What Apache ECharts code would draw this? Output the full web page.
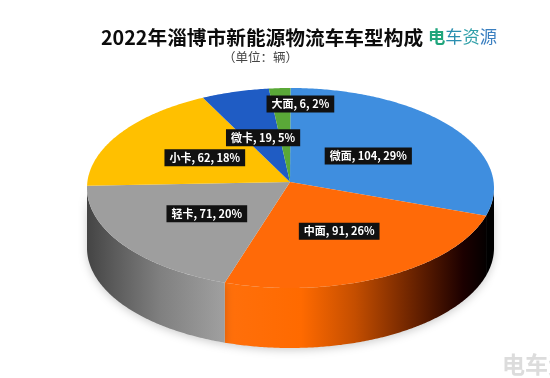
<!DOCTYPE html>
<html>
<head>
<meta charset="utf-8">
<style>
html, body { margin: 0; padding: 0; background: #fff; }
#chart { width: 550px; height: 378px; }
</style>
<script src="https://cdn.jsdelivr.net/npm/echarts@6/dist/echarts.min.js"></script>
</head>
<body>
<div id="chart"></div>
<script>
// data, clockwise from 12 o'clock
var categories = ['微面', '中面', '轻卡', '小卡', '微卡', '大面'];
var values = [104, 91, 71, 62, 19, 6];
var percents = [29, 26, 20, 18, 5, 2];
var topColors = ['#3f8edf', '#ff6a08', '#9e9e9e', '#ffc000', '#1f5cc4', '#5aa838'];

// layout of the tilted pie
var cx = 290.5, cy = 188, rx = 203.5, ry = 100;
var apexX = 290, apexY = 182;
var depth = 60;
var labelFrac = [0.48, 0.52, 0.5, 0.5, 0.49, 0.83];
var labelShift = [0, 0, 0, 0, 0, 19];

var total = values.reduce(function (a, b) { return a + b; }, 0);
var starts = [];
values.reduce(function (sum, v, i) { starts[i] = sum; return sum + v; }, 0);

function rim(t) {
    return [cx + rx * Math.sin(t), cy - ry * Math.cos(t)];
}

function arcPoints(t0, t1, dy) {
    var pts = [];
    var n = Math.max(2, Math.ceil((t1 - t0) / 0.01));
    for (var k = 0; k <= n; k++) {
        var p = rim(t0 + (t1 - t0) * k / n);
        pts.push([p[0], p[1] + dy]);
    }
    return pts;
}

var wallFills = [
    '#000000',
    new echarts.graphic.LinearGradient(220, 0, 490, 0, [
        { offset: 0, color: '#ff700c' },
        { offset: 0.3, color: '#ff6a00' },
        { offset: 0.5, color: '#c44e00' },
        { offset: 0.75, color: '#5c1c00' },
        { offset: 0.9, color: '#1c0000' },
        { offset: 1, color: '#000000' }
    ], true),
    new echarts.graphic.LinearGradient(87, 0, 221, 0, [
        { offset: 0, color: '#444444' },
        { offset: 0.15, color: '#555555' },
        { offset: 0.55, color: '#808080' },
        { offset: 1, color: '#9e9e9e' }
    ], true)
];

function renderSlice(params, api) {
    var i = params.dataIndex;
    var t0 = starts[i] / total * Math.PI * 2;
    var t1 = (starts[i] + api.value(0)) / total * Math.PI * 2;
    var children = [];

    // side wall, only the part facing the viewer
    var w0 = Math.max(t0, Math.PI / 2), w1 = Math.min(t1, Math.PI * 1.5);
    if (w1 > w0) {
        children.push({
            type: 'polygon',
            z2: 1,
            shape: { points: arcPoints(w0, w1, 0).concat(arcPoints(w0, w1, depth).reverse()) },
            style: { fill: wallFills[i], shadowBlur: 8, shadowColor: 'rgba(0,0,0,0.2)', shadowOffsetY: 2 }
        });
    }

    children.push({
        type: 'polygon',
        z2: 2,
        shape: { points: [[apexX, apexY]].concat(arcPoints(t0, t1, 0)) },
        style: { fill: topColors[i] }
    });

    var mid = rim((t0 + t1) / 2);
    children.push({
        type: 'text',
        z2: 3,
        style: {
            x: apexX + (mid[0] - apexX) * labelFrac[i] + labelShift[i],
            y: apexY + (mid[1] - apexY) * labelFrac[i],
            text: categories[i] + ', ' + values[i] + ', ' + percents[i] + '%',
            align: 'center',
            verticalAlign: 'middle',
            fill: '#fff',
            fontFamily: '"Noto Sans CJK SC"',
            fontWeight: 'bold',
            fontSize: 11,
            backgroundColor: '#111111',
            padding: [3, 5],
            boxShadowBlur: 4,
            boxShadowColor: 'rgba(0,0,0,0.6)',
            boxShadowOffsetX: 2,
            boxShadowOffsetY: 2
        }
    });

    return { type: 'group', children: children };
}

var myChart = echarts.init(document.getElementById('chart'), null, { renderer: 'canvas' });

var option = {
    animation: false,
    backgroundColor: '#fff',
    title: [
        {
            text: '2022年淄博市新能源物流车车型构成',
            left: 101,
            top: 28,
            padding: 0,
            textStyle: { fontFamily: '"Noto Sans CJK SC"', fontSize: 19.7, fontWeight: 'bold', color: '#0c0c0c' }
        },
        {
            text: '（单位：辆）',
            left: 223,
            top: 51,
            padding: 0,
            textStyle: { fontFamily: '"Noto Sans CJK SC"', fontSize: 12.5, fontWeight: 'normal', color: '#444' }
        }
    ],
    graphic: [
        {
            type: 'text',
            left: 428,
            top: 28,
            style: {
                text: '{a|电}{b|车}{c|资}{d|源}',
                rich: {
                    a: { fill: '#1fa57c', fontSize: 17.3, fontFamily: '"Noto Sans CJK SC"', fontWeight: 'bold' },
                    b: { fill: '#2b8fb0', fontSize: 17.3, fontFamily: '"Noto Sans CJK SC"' },
                    c: { fill: '#2f9fa8', fontSize: 17.3, fontFamily: '"Noto Sans CJK SC"' },
                    d: { fill: '#3a7fc0', fontSize: 17.3, fontFamily: '"Noto Sans CJK SC"' }
                }
            }
        },
        {
            type: 'text',
            left: 502,
            top: 353,
            style: {
                text: '电车资源',
                fill: '#dcdcdc',
                fontSize: 23,
                fontWeight: 'bold',
                fontFamily: '"Noto Sans CJK SC"'
            }
        }
    ],
    series: [{
        type: 'custom',
        coordinateSystem: 'none',
        renderItem: renderSlice,
        data: values.map(function (v, i) { return { name: categories[i], value: [v] }; })
    }]
};

myChart.setOption(option);
</script>
</body>
</html>
